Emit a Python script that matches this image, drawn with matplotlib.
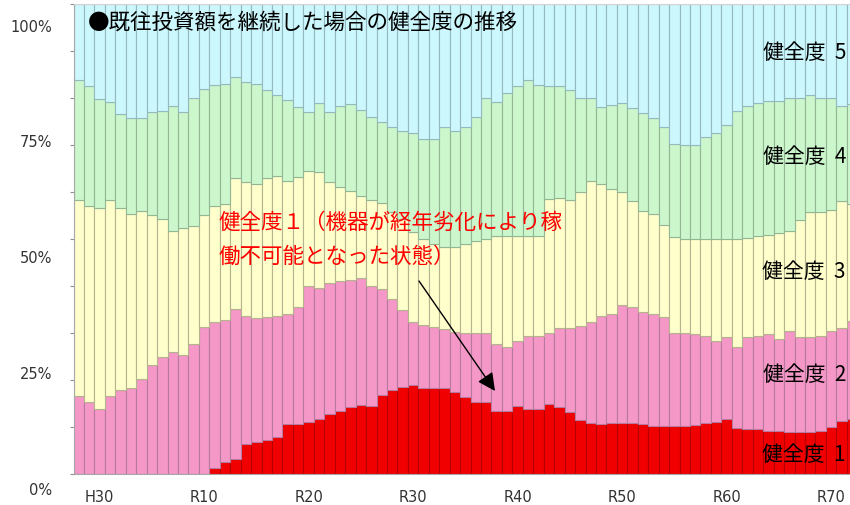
import matplotlib
matplotlib.use('Agg')
import matplotlib.pyplot as plt
import numpy as np

plt.rcParams['font.family'] = ['Noto Sans CJK JP', 'DejaVu Sans']

# ---- data (share of equipment by health level, % ; one bar per fiscal year) ----
years = ['H28', 'H29', 'H30'] + [f'R{i}' for i in range(1, 73)]

h1 = [0, 0, 0, 0, 0, 0, 0, 0, 0, 0, 0, 0, 0, 1.2, 2.6, 3.2, 6.4, 6.9, 7.3, 7.8,
      10.7, 10.6, 11.1, 11.8, 12.8, 13.3, 14.3, 14.7, 14.4, 16.8, 17.9, 18.6, 19.0, 18.4, 18.4,
      18.4, 17.4, 16.3, 15.4, 15.3, 13.3, 13.3, 14.4, 13.9, 13.9, 15.0, 14.3, 13.1, 11.5, 10.9,
      10.6, 10.8, 10.8, 10.8, 10.6, 10.3, 10.3, 10.2, 10.3, 10.5, 10.9, 11.1, 11.6, 9.7, 9.6,
      9.5, 9.1, 9.1, 9.0, 8.9, 8.9, 9.1, 9.9, 11.2, 11.6]
h2 = [16.7, 15.4, 13.8, 16.7, 17.9, 18.4, 20.2, 23.2, 25.0, 26.0, 25.3, 27.7, 31.3, 31.2, 30.2,
      31.9, 27.3, 26.3, 26.0, 25.9, 23.3, 24.9, 28.8, 27.7, 27.9, 27.8, 27.0, 27.1, 25.7, 22.6,
      19.3, 16.2, 13.3, 13.2, 12.8, 12.5, 12.9, 13.8, 14.5, 14.6, 14.4, 13.8, 13.8, 15.5, 15.5,
      15.1, 16.8, 17.9, 20.0, 21.4, 23.1, 23.2, 25.2, 24.7, 23.8, 23.7, 23.0, 19.8, 19.6, 19.3,
      18.4, 17.2, 17.5, 17.4, 19.5, 19.9, 20.6, 19.6, 21.5, 20.2, 20.2, 20.2, 20.6, 19.8, 21.0]
h3 = [41.5, 41.7, 42.9, 41.5, 38.6, 36.9, 35.8, 31.9, 29.3, 25.8, 27.0, 25.1, 23.8, 24.6, 24.6,
      27.9, 28.4, 28.5, 29.7, 29.8, 28.4, 27.6, 24.6, 24.8, 21.4, 19.9, 19.0, 17.4, 18.1, 18.3,
      18.5, 19.5, 19.1, 18.4, 17.7, 17.3, 17.9, 18.8, 19.7, 20.2, 22.9, 23.5, 22.4, 21.2, 21.2,
      28.4, 27.6, 27.2, 28.6, 30.0, 27.9, 26.6, 24.1, 22.5, 21.6, 21.4, 19.6, 20.4, 20.0, 20.1,
      20.6, 21.6, 20.8, 22.9, 21.2, 21.2, 21.2, 22.5, 21.3, 24.9, 26.6, 26.4, 25.6, 27.1, 24.8]
h4 = [25.7, 25.4, 23.1, 21.0, 20.2, 20.4, 19.7, 21.9, 22.9, 26.4, 24.8, 27.1, 26.8, 25.8, 25.6,
      21.5, 21.4, 21.3, 18.6, 17.2, 17.2, 14.9, 12.6, 14.6, 14.9, 17.2, 18.5, 18.2, 17.7, 17.3,
      18.2, 18.7, 21.2, 21.3, 22.4, 25.6, 24.8, 25.0, 26.3, 30.0, 28.5, 30.4, 31.9, 33.3, 32.2,
      24.1, 23.8, 23.4, 20.0, 17.8, 16.4, 17.9, 18.9, 19.8, 20.8, 20.3, 20.9, 19.8, 20.2, 20.2,
      21.9, 22.7, 24.4, 27.3, 27.9, 28.3, 28.5, 28.2, 28.3, 26.1, 24.9, 24.2, 23.8, 20.3, 21.3]
h5 = [16.1, 17.5, 20.2, 20.8, 23.3, 24.3, 24.3, 23.0, 22.8, 21.8, 22.9, 20.1, 18.1, 17.2, 17.0,
      15.5, 16.5, 17.0, 18.4, 19.3, 20.4, 22.0, 22.9, 21.1, 23.0, 21.8, 21.2, 22.6, 24.1, 25.0,
      26.1, 27.0, 27.4, 28.7, 28.7, 26.2, 27.0, 26.1, 24.1, 19.9, 20.9, 19.0, 17.5, 16.1, 17.2,
      17.4, 17.5, 18.4, 19.9, 19.9, 22.0, 21.5, 21.0, 22.2, 23.2, 24.3, 26.2, 29.8, 29.9, 29.9,
      28.2, 27.4, 25.7, 22.7, 21.8, 21.1, 20.6, 20.6, 19.9, 19.9, 19.4, 20.1, 20.1, 21.6, 21.3]

series = [h1, h2, h3, h4, h5]
series_labels = ['健全度  1', '健全度  2', '健全度  3', '健全度  4', '健全度  5']
fill_colors = ['#F00000', '#F598C8', '#FFFFCC', '#CCF7CC', '#CCF7FC']
edge_colors = ['#B80000', '#B57A9E', '#B5B48E', '#93B794', '#94B9BE']

x_tick_labels = ['H30', 'R10', 'R20', 'R30', 'R40', 'R50', 'R60', 'R70']
y_tick_values = [0, 25, 50, 75, 100]
y_tick_labels = ['0%', '25%', '50%', '75%', '100%']

title = '●既往投資額を継続した場合の健全度の推移'
note_line1 = '健全度１（機器が経年劣化により稼'
note_line2 = '働不可能となった状態）'

# ---- figure ----
W, H = 850, 506
fig = plt.figure(figsize=(W / 100, H / 100), dpi=100)
ax = fig.add_axes([73.5 / W, 31 / H, 776.5 / W, 470 / H])

x = np.arange(len(years))
bottom = np.zeros(len(years))
for vals, fc, ec in zip(series, fill_colors, edge_colors):
    v = np.array(vals, dtype=float)
    ax.bar(x, v, bottom=bottom, width=1.0, color=fc, edgecolor=ec, linewidth=0.8)
    bottom += v

ax.set_xlim(-0.5, -0.5 + 776.5 / 10.45)
ax.set_ylim(0, 100)

ax.spines['right'].set_visible(False)
ax.spines['top'].set_color('#d4d4d4')
ax.spines['left'].set_color('#a8a8a8')
ax.spines['bottom'].set_color('#a8a8a8')
for s in ['top', 'left', 'bottom']:
    ax.spines[s].set_linewidth(0.8)

ax.set_yticks(np.arange(0, 101, 10))
ax.set_yticklabels([])
ax.tick_params(axis='y', length=3, width=0.8, color='#909090')

xpos = [years.index(l) for l in x_tick_labels]
ax.set_xticks(xpos)
ax.set_xticklabels(x_tick_labels, fontsize=10.5, color='#333333', family='DejaVu Sans')
ax.tick_params(axis='x', length=0, pad=11)

# the percentage labels sit slightly below their ticks in the reference
ytrans = ax.get_yaxis_transform()
for v, lab in zip(y_tick_values, y_tick_labels):
    ax.text(-0.027, v * 0.985 - 3.2, lab, transform=ytrans, ha='right', va='center',
            fontsize=10.5, color='#333333', family='DejaVu Sans')


def fp(px, py):
    return px / W, 1 - py / H


fig.text(*fp(88, 23), title, fontsize=15.5, ha='left', va='center', color='black')

label_y = [455, 375, 272, 157, 53]
for lab, py in zip(series_labels, label_y):
    fig.text(*fp(846, py), lab, fontsize=15, ha='right', va='center', color='black')

fig.text(*fp(219, 223), note_line1, fontsize=15.5, ha='left', va='center', color='#FF0000')
fig.text(*fp(219, 257), note_line2, fontsize=15.5, ha='left', va='center', color='#FF0000')

ax.annotate('', xy=fp(495, 392), xycoords='figure fraction',
            xytext=fp(419, 282), textcoords='figure fraction',
            arrowprops=dict(arrowstyle='-|>,head_length=0.6,head_width=0.3',
                            color='black', lw=1.0, mutation_scale=18,
                            shrinkA=0, shrinkB=0))

fig.savefig('out.png', dpi=100)
